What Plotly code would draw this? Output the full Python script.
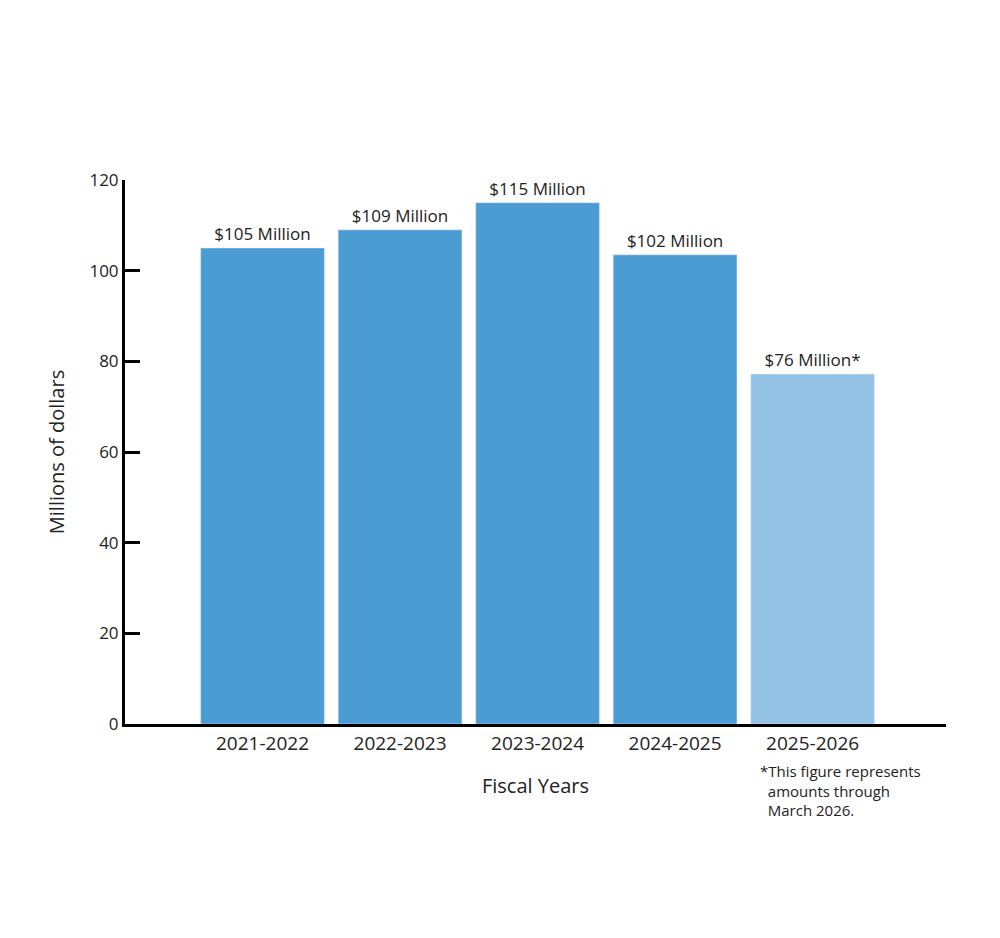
import plotly.graph_objects as go

years = ["2021-2022", "2022-2023", "2023-2024", "2024-2025", "2025-2026"]
values = [105, 109, 115, 103.5, 77.2]
labels = ["$105 Million", "$109 Million", "$115 Million", "$102 Million", "$76 Million*"]
colors = ["#4b9cd3", "#4b9cd3", "#4b9cd3", "#4b9cd3", "#94c3e5"]

fig = go.Figure(go.Bar(
    x=list(range(len(years))), y=values, marker_color=colors,
    text=labels, textposition="outside", cliponaxis=False,
    textfont=dict(size=17, color="#222"),
))

fig.update_layout(
    width=1000, height=938, plot_bgcolor="white", paper_bgcolor="white",
    margin=dict(l=117, r=62, t=172, b=222),
    font=dict(family="Open Sans", color="#222"),
    bargap=0.1, showlegend=False,
    xaxis=dict(range=[-1, 4.97], tickvals=list(range(len(years))), ticktext=years,
               tickfont=dict(size=19), showline=True, linecolor="black", linewidth=3,
               ticks="", showgrid=False, zeroline=False,
               title=dict(text="Fiscal Years", font=dict(size=20), standoff=25)),
    yaxis=dict(range=[0, 120], dtick=20, tickfont=dict(size=17), showline=True,
               linecolor="black", linewidth=3, ticks="inside", ticklen=15, tickwidth=3,
               tickcolor="black", showgrid=False, zeroline=False,
               title=dict(text="Millions of dollars", font=dict(size=20), standoff=20)),
)

fig.add_annotation(xref="paper", yref="paper", x=(750 - 117) / 821, y=-0.065,
                   xanchor="left", yanchor="top", align="left", showarrow=False,
                   text="*This figure represents<br>  amounts through<br>  March 2026.",
                   font=dict(size=15, color="#222"))

fig.write_html("out.html")
